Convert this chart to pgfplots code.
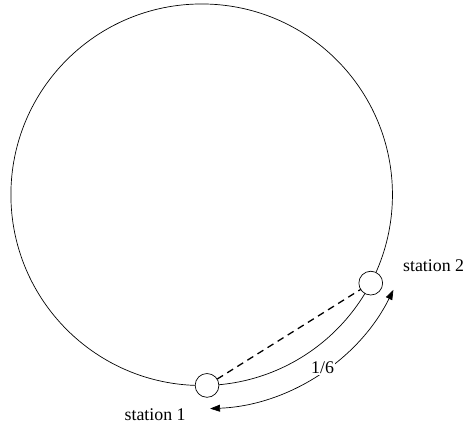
\documentclass[border=0pt]{standalone}
\usepackage{pgfplots}
\pgfplotsset{compat=1.18}
\usepackage{fontspec}
\setmainfont{Liberation Serif}
\usetikzlibrary{arrows.meta}
\begin{document}
\fontsize{18pt}{21pt}\selectfont
\begin{tikzpicture}
\begin{axis}[x=1pt,y=1pt,hide axis,clip=false,
  xmin=-203.5,xmax=266.5,ymin=-231.5,ymax=196.5,
  scale only axis]
% invisible corners to fix the bounding box
\addplot[draw=none,forget plot] coordinates {(-203.5,-231.5) (266.5,196.5)};
% ring
\draw[line width=0.7pt] (axis cs:0,0) circle[radius=192.5pt];
% chord between stations
\addplot[line width=1.3pt,dash pattern=on 7pt off 5pt] coordinates {(5.4,-192.4) (170.6,-89.2)};
% arc with arrows
\draw[line width=0.7pt,{Triangle[length=10pt,width=7pt]}-{Triangle[length=10pt,width=7pt]}]
  (axis cs:8.5,-215.8) arc[start angle=-87.74,end angle=-26.39,radius=216pt];
\node[fill=white,inner sep=1pt] at (axis cs:122,-175) {1/6};
% stations
\addplot[only marks,mark=*,mark size=12pt,mark options={draw=black,fill=white,line width=0.7pt}] coordinates {(5.4,-192.4) (170.6,-89.2)};
\node at (axis cs:234,-72) {station 2};
\node at (axis cs:-47,-222) {station 1};
\end{axis}
\end{tikzpicture}
\end{document}
